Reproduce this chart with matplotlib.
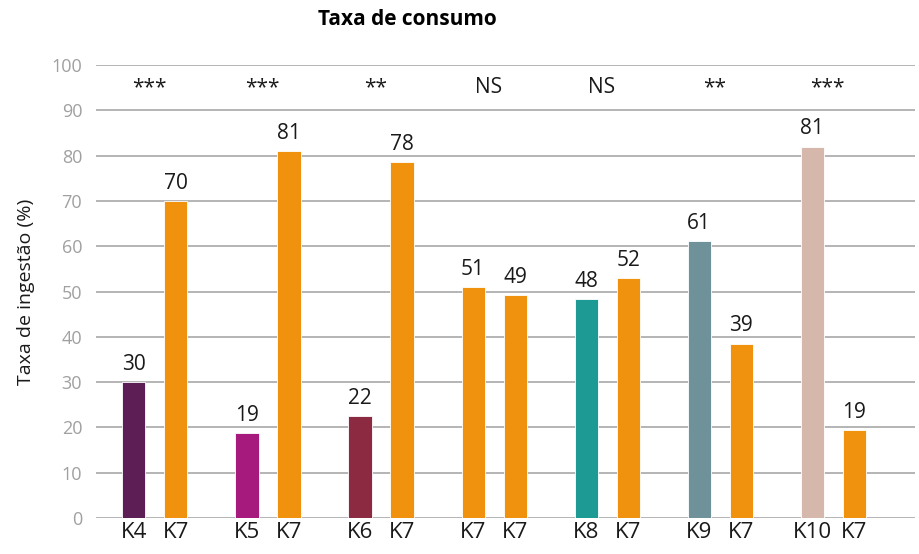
import matplotlib.pyplot as plt
import numpy as np

plt.rcParams['font.family'] = ['Open Sans', 'DejaVu Sans']

# dados
tests = ['K4', 'K5', 'K6', 'K7', 'K8', 'K9', 'K10']
test_vals = [30, 18.8, 22.5, 51, 48.4, 61.2, 82]
test_labels = ['30', '19', '22', '51', '48', '61', '81']
k7_vals = [70, 81, 78.5, 49.2, 53, 38.5, 19.4]
k7_labels = ['70', '81', '78', '49', '52', '39', '19']
signif = ['***', '***', '**', 'NS', 'NS', '**', '***']
test_colors = ['#5c1e55', '#a6197d', '#8b2a40', '#f0920e', '#1e9a94', '#6f929a', '#d5b8ab']
k7_color = '#f0920e'

fig = plt.figure(figsize=(9.19, 5.54), dpi=100)
ax = fig.add_axes([0.1045, 0.065, 0.891, 0.8175])

x = np.arange(len(tests))
off = 0.186
w = 0.205

ax.bar(x - off, test_vals, w, color=test_colors, edgecolor='white', linewidth=0.6, zorder=3)
ax.bar(x + off, k7_vals, w, color=k7_color, edgecolor='white', linewidth=0.6, zorder=3)

for i in range(len(tests)):
    ax.text(x[i] - off, test_vals[i] + 1.6, test_labels[i], ha='center', va='bottom', fontsize=15, color='#1a1a1a')
    ax.text(x[i] + off, k7_vals[i] + 1.6, k7_labels[i], ha='center', va='bottom', fontsize=15, color='#1a1a1a')
    ax.text(x[i] - 0.05, 95, signif[i], ha='center', va='center', fontsize=15, color='#1a1a1a')

ax.set_xticks(np.concatenate([x - off, x + off]))
ax.set_xticklabels(tests + ['K7'] * len(tests), fontsize=16, color='#1a1a1a')
ax.set_xlim(-0.52, 6.72)
ax.set_ylim(0, 100)
ax.set_yticks(range(0, 101, 10))
ax.tick_params(axis='y', length=0, labelsize=13, labelcolor='#a0a0a0', pad=10)
ax.tick_params(axis='x', length=0, pad=3)

ax.grid(axis='y', color='#b4b4b4', linewidth=1.4, zorder=0)
for s in ax.spines.values():
    s.set_visible(False)

ax.set_ylabel('Taxa de ingestão (%)', fontsize=14, color='#1a1a1a', labelpad=12)
fig.text(0.443, 0.965, 'Taxa de consumo', ha='center', va='center', fontsize=15, fontweight='bold')

fig.savefig('out.png', dpi=100)
